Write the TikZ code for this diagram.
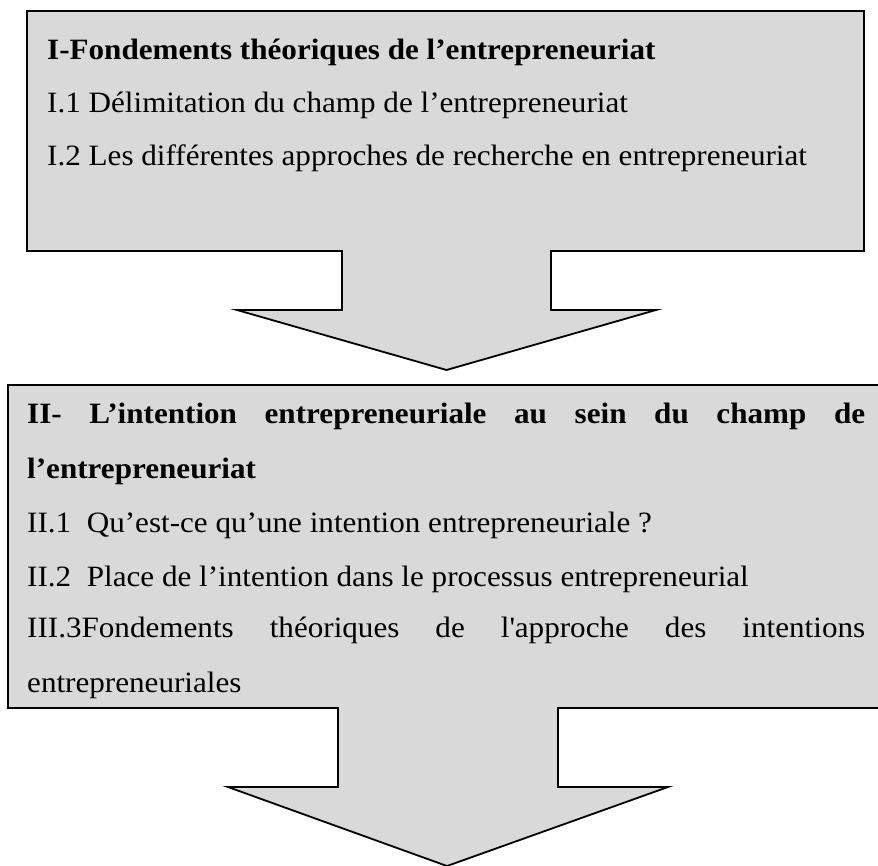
\documentclass[tikz,border=0pt]{standalone}
\usepackage{fontspec}
\setmainfont{Liberation Serif}[FakeStretch=1.055]
\definecolor{boxgray}{HTML}{D9D9D9}
\tikzset{
  blockarrow/.style={fill=boxgray, draw=black, line width=1.8pt, line join=miter},
  txt/.style={anchor=base west, inner sep=0pt, font=\fontsize{29.5}{54}\selectfont},
}
\begin{document}
\begin{tikzpicture}[x=1pt,y=-1pt]
\useasboundingbox (0,0) rectangle (878,865);
\clip (0,0) rectangle (878,865);
% box 1 with its arrow
\draw[blockarrow] (27,11) -- (864,11) -- (864,251) -- (551,251) -- (551,310) -- (656,310)
  -- (446.5,370) -- (237,310) -- (342,310) -- (342,251) -- (27,251) -- cycle;
% box 2 with its arrow
\draw[blockarrow] (8,385) -- (884,385) -- (884,708) -- (558,708) -- (558,787) -- (668,787)
  -- (447,866) -- (228,787) -- (338,787) -- (338,708) -- (8,708) -- cycle;
% texts of box 1
\node[txt] (t1) at (47,59) {\bfseries I-Fondements théoriques de l’entrepreneuriat};
\node[txt] (t2) at (47,112) {I.1 Délimitation du champ de l’entrepreneuriat};
\node[txt] (t3) at (47,165) {I.2 Les différentes approches de recherche en entrepreneuriat};
% texts of box 2
\node[txt] (u1) at (27,423) {\hbox to 838pt{\bfseries II-\hfill L’intention\hfill entrepreneuriale\hfill au\hfill sein\hfill du\hfill champ\hfill de}};
\node[txt] (u2) at (27,478) {\bfseries l’entrepreneuriat};
\node[txt] (u3) at (27,532) {II.1\ \ Qu’est-ce qu’une intention entrepreneuriale ?};
\node[txt] (u4) at (27,586) {II.2\ \ Place de l’intention dans le processus entrepreneurial};
\node[txt] (u5) at (27,637) {\hbox to 838pt{III.3Fondements\hfill théoriques\hfill de\hfill l\textquotesingle approche\hfill des\hfill intentions}};
\node[txt] (u6) at (27,692) {entrepreneuriales};
\end{tikzpicture}
\end{document}
